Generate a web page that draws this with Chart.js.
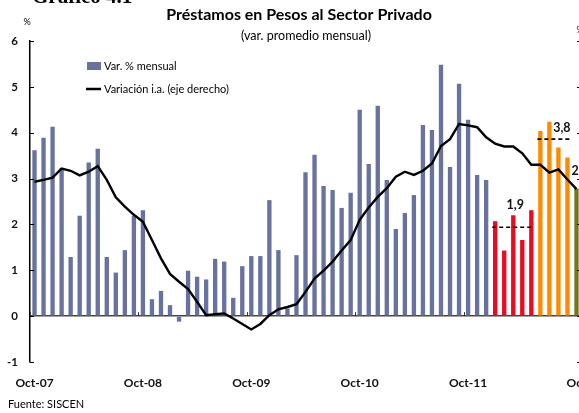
<!DOCTYPE html>
<html lang="es">
<head>
<meta charset="utf-8">
<title>Préstamos en Pesos al Sector Privado</title>
<script src="https://cdn.jsdelivr.net/npm/chart.js@4/dist/chart.umd.min.js"></script>
<style>
  html, body { margin: 0; padding: 0; background: #fff; overflow: hidden; }
  #wrap { position: absolute; left: 0; top: 0; width: 620px; height: 413px; }
</style>
</head>
<body>
<div id="wrap"><canvas id="chart" width="620" height="413"></canvas></div>
<script>
// ── Datos ──────────────────────────────────────────────────────────────────
const months = [
  'Oct-07','Nov-07','Dic-07','Ene-08','Feb-08','Mar-08','Abr-08','May-08','Jun-08','Jul-08','Ago-08','Sep-08',
  'Oct-08','Nov-08','Dic-08','Ene-09','Feb-09','Mar-09','Abr-09','May-09','Jun-09','Jul-09','Ago-09','Sep-09',
  'Oct-09','Nov-09','Dic-09','Ene-10','Feb-10','Mar-10','Abr-10','May-10','Jun-10','Jul-10','Ago-10','Sep-10',
  'Oct-10','Nov-10','Dic-10','Ene-11','Feb-11','Mar-11','Abr-11','May-11','Jun-11','Jul-11','Ago-11','Sep-11',
  'Oct-11','Nov-11','Dic-11','Ene-12','Feb-12','Mar-12','Abr-12','May-12','Jun-12','Jul-12','Ago-12','Sep-12',
  'Oct-12'
];
const tickMonths = ['Oct-07', 'Oct-08', 'Oct-09', 'Oct-10', 'Oct-11', 'Oct'];

// Var. % mensual (eje izquierdo)
const varMensual = [
  3.62, 3.89, 4.13, 3.22, 1.29, 2.19, 3.35, 3.65, 1.29, 0.95, 1.44, 2.19,
  2.31, 0.37, 0.55, 0.24, -0.12, 0.99, 0.86, 0.80, 1.25, 1.19, 0.40, 1.09,
  1.31, 1.31, 2.53, 1.44, 0.17, 1.33, 3.14, 3.52, 2.84, 2.75, 2.36, 2.69,
  4.50, 3.32, 4.59, 2.97, 1.90, 2.25, 2.64, 4.17, 4.06, 5.48, 3.25, 5.07,
  4.28, 3.08, 2.97, 2.07, 1.43, 2.20, 1.66, 2.31, 4.04, 4.24, 3.68, 3.46,
  2.78
];

// Variación i.a. (eje derecho)
const varInteranual = [
  39.3, 39.7, 40.2, 42.2, 41.7, 40.7, 41.5, 42.7, 39.7, 35.9, 33.9, 32.1,
  30.6, 26.6, 22.6, 19.2, 17.5, 15.9, 13.1, 10.2, 10.4, 10.6, 9.5, 8.3,
  7.1, 8.3, 10.2, 11.5, 12.0, 12.6, 15.3, 18.2, 19.9, 21.9, 24.3, 26.6,
  31.0, 33.7, 36.0, 37.9, 40.4, 41.5, 40.8, 41.7, 43.3, 47.1, 48.6, 51.9,
  51.6, 51.2, 49.0, 47.6, 47.0, 47.0, 45.5, 43.0, 43.0, 41.3, 42.0, 39.8,
  37.7
];

// Promedios por tramo (meses desde/hasta, valor, etiqueta)
const avgFrom   = ['Ene-12', 'Jun-12', 'Oct-12'];
const avgTo     = ['May-12', 'Sep-12', 'Oct-12'];
const avgValue  = [1.94, 3.86, null];
const avgLabels = ['1,9', '3,8', '2,8'];

const leftTicks  = [-1, 0, 1, 2, 3, 4, 5, 6];
const rightTicks = [0, 10, 20, 30, 40, 50, 60, 70];

// ── Estilos ────────────────────────────────────────────────────────────────
const FONT   = 'Lato, "Open Sans", sans-serif';
const BLUE   = '#68729f';
const RED    = '#ea0a22';
const ORANGE = '#ff8a00';
const OLIVE  = '#6e7d12';

function barColor(i) {
  const iRed = months.indexOf('Ene-12'), iOr = months.indexOf('Jun-12'), iOl = months.indexOf('Oct-12');
  if (i >= iOl) return OLIVE;
  if (i >= iOr) return ORANGE;
  if (i >= iRed) return RED;
  return BLUE;
}

// ── Plugin: textos, leyenda, marcas y promedios ────────────────────────────
const decor = {
  id: 'decor',
  afterDatasetsDraw(chart) {
    const { ctx, chartArea: a, scales: { x, y } } = chart;
    ctx.save();

    // marcas hacia adentro en los ejes
    ctx.strokeStyle = '#000';
    ctx.lineWidth = 1;
    leftTicks.forEach(v => {
      const py = Math.round(y.getPixelForValue(v)) + 0.5;
      ctx.beginPath(); ctx.moveTo(a.left, py); ctx.lineTo(a.left + 4, py); ctx.stroke();
      ctx.beginPath(); ctx.moveTo(a.right - 4, py); ctx.lineTo(a.right, py); ctx.stroke();
    });

    // marcas de año sobre la línea de cero
    const y0 = y.getPixelForValue(0);
    ctx.strokeStyle = '#333';
    tickMonths.slice(1).forEach(lbl => {
      const i = months.findIndex(m => m.startsWith(lbl));
      const px = Math.round((x.getPixelForValue(i - 1) + x.getPixelForValue(i)) / 2) + 0.5;
      ctx.beginPath(); ctx.moveTo(px, y0 - 4); ctx.lineTo(px, y0); ctx.stroke();
    });

    // promedios punteados
    ctx.fillStyle = '#111';
    ctx.font = 'bold 12.5px ' + FONT;
    ctx.textBaseline = 'middle';
    avgValue.forEach((v, k) => {
      const i0 = months.indexOf(avgFrom[k]), i1 = months.indexOf(avgTo[k]);
      const x0 = x.getPixelForValue(i0) - 3, x1 = x.getPixelForValue(i1) + 3;
      if (v !== null) {
        const py = y.getPixelForValue(v);
        ctx.setLineDash([4, 3]);
        ctx.lineWidth = 1.6;
        ctx.strokeStyle = '#000';
        ctx.beginPath(); ctx.moveTo(x0, py); ctx.lineTo(x1, py); ctx.stroke();
        ctx.setLineDash([]);
        ctx.textAlign = 'center';
        const lx = k === 0 ? (x0 + x1) / 2 + 2 : (x0 + x1) / 2 + 8;
        ctx.fillText(avgLabels[k], lx, py - (k === 0 ? 22 : 11));
      } else {
        ctx.textAlign = 'left';
        ctx.fillText(avgLabels[k], x0 - 2, y.getPixelForValue(varMensual[i0]) - 18);
      }
    });
    ctx.restore();
  },
  afterDraw(chart) {
    const { ctx } = chart;
    ctx.save();
    ctx.fillStyle = '#000';
    ctx.textBaseline = 'alphabetic';

    // título del gráfico (cortado arriba)
    ctx.textAlign = 'left';
    ctx.font = 'bold 21px "Liberation Serif", serif';
    ctx.fillText('Gráfico 4.1', 32, 3);

    ctx.textAlign = 'center';
    ctx.font = 'bold 16px ' + FONT;
    ctx.fillText('Préstamos en Pesos al Sector Privado', 299, 20);
    ctx.font = '12.5px ' + FONT;
    ctx.fillText('(var. promedio mensual)', 306, 40);

    // unidades
    ctx.font = '9px ' + FONT;
    ctx.fillText('%', 27, 25);
    ctx.fillText('%', 580, 33);

    // leyenda
    ctx.textAlign = 'left';
    ctx.textBaseline = 'middle';
    ctx.font = '11px ' + FONT;
    ctx.fillStyle = BLUE;
    ctx.fillRect(87, 62, 14, 8);
    ctx.fillStyle = '#000';
    ctx.fillText('Var. % mensual', 104, 66);
    ctx.lineWidth = 2.5;
    ctx.beginPath(); ctx.moveTo(86, 89); ctx.lineTo(101, 89); ctx.stroke();
    ctx.fillText('Variación i.a. (eje derecho)', 104, 89);

    // fuente
    ctx.font = '11px ' + FONT;
    ctx.fillText('Fuente: SISCEN', 8, 404);
    ctx.restore();
  }
};

// ── Gráfico ────────────────────────────────────────────────────────────────
new Chart(document.getElementById('chart'), {
  type: 'bar',
  data: {
    labels: months,
    datasets: [
      {
        label: 'Variación i.a. (eje derecho)',
        type: 'line',
        data: varInteranual,
        yAxisID: 'y2',
        borderColor: '#000',
        borderWidth: 2.4,
        pointRadius: 0,
        tension: 0,
        fill: false,
        order: 0
      },
      {
        label: 'Var. % mensual',
        data: varMensual,
        yAxisID: 'y',
        backgroundColor: varMensual.map((_, i) => barColor(i)),
        borderWidth: 0,
        categoryPercentage: 1,
        barPercentage: 0.48,
        order: 1
      }
    ]
  },
  options: {
    responsive: false,
    animation: false,
    events: [],
    layout: { padding: { top: 41, left: 0, right: 0, bottom: 0 } },
    plugins: { legend: { display: false }, tooltip: { enabled: false }, title: { display: false } },
    scales: {
      x: {
        offset: true,
        grid: { display: false, drawTicks: false },
        border: { display: false },
        afterFit: s => { s.height = 51; },
        ticks: {
          autoSkip: false,
          maxRotation: 0,
          padding: 14,
          color: '#111',
          font: { family: FONT, size: 12, weight: 'bold' },
          callback: (v, i) => {
            const lbl = tickMonths.find(t => months[i].startsWith(t));
            return i % 12 === 0 ? (lbl || '') : '';
          }
        }
      },
      y: {
        position: 'left',
        min: -1,
        max: 6,
        afterFit: s => { s.width = 30; },
        afterBuildTicks: s => { s.ticks = leftTicks.map(v => ({ value: v })); },
        border: { display: true, color: '#000', width: 1.5 },
        grid: {
          drawTicks: false,
          color: c => (c.tick && c.tick.value === 0 ? '#444' : 'rgba(0,0,0,0)'),
          lineWidth: 1.4
        },
        ticks: {
          padding: 12,
          color: '#111',
          font: { family: FONT, size: 11.5, weight: 'bold' }
        }
      },
      y2: {
        position: 'right',
        min: 0,
        max: 70,
        afterFit: s => { s.width = 39; },
        afterBuildTicks: s => { s.ticks = rightTicks.map(v => ({ value: v })); },
        border: { display: false },
        grid: { display: false, drawTicks: false },
        ticks: {
          padding: 6,
          color: '#111',
          font: { family: FONT, size: 11, weight: 'bold' }
        }
      }
    }
  },
  plugins: [decor]
});
</script>
</body>
</html>
